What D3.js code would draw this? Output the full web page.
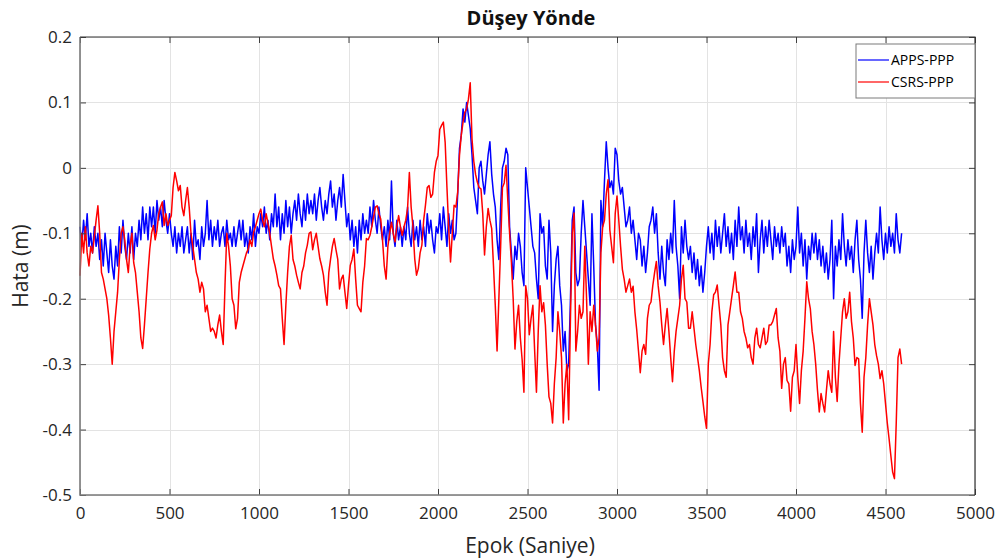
<!DOCTYPE html>
<html>
  <head>
    <meta charset="utf-8">
    <script src="https://cdn.jsdelivr.net/npm/d3@7/dist/d3.min.js"></script>
    <style>
      body { margin: 0; background: white; }
      svg { display: block; font-family: 'Open Sans', sans-serif; }
    </style>
  </head>
  <body>
    <script>
      // epochs run 0, 10, 20 ... seconds
      const epochStep = 10
      const xTicks = [0, 500, 1000, 1500, 2000, 2500, 3000, 3500, 4000, 4500, 5000]
      const yTicks = [-0.5, -0.4, -0.3, -0.2, -0.1, 0, 0.1, 0.2]
      const seriesNames = ['APPS-PPP', 'CSRS-PPP']

      const appsPPP = [
        -0.09,-0.12,-0.08,-0.11,-0.07,-0.12,-0.10,-0.13,-0.09,-0.12,
        -0.10,-0.14,-0.11,-0.15,-0.10,-0.13,-0.16,-0.11,-0.15,-0.17,
        -0.12,-0.15,-0.09,-0.13,-0.08,-0.12,-0.14,-0.10,-0.13,-0.09,
        -0.14,-0.10,-0.12,-0.08,-0.11,-0.06,-0.10,-0.07,-0.11,-0.06,
        -0.09,-0.06,-0.10,-0.05,-0.08,-0.06,-0.09,-0.05,-0.08,-0.10,
        -0.07,-0.10,-0.12,-0.09,-0.13,-0.10,-0.12,-0.09,-0.13,-0.11,
        -0.09,-0.13,-0.10,-0.14,-0.08,-0.12,-0.11,-0.14,-0.09,-0.12,
        -0.10,-0.05,-0.11,-0.08,-0.12,-0.09,-0.11,-0.08,-0.12,-0.10,
        -0.09,-0.12,-0.08,-0.11,-0.10,-0.12,-0.09,-0.12,-0.10,-0.08,
        -0.11,-0.08,-0.12,-0.10,-0.13,-0.09,-0.11,-0.07,-0.12,-0.09,
        -0.10,-0.07,-0.09,-0.06,-0.10,-0.08,-0.11,-0.07,-0.09,-0.04,
        -0.09,-0.06,-0.11,-0.07,-0.10,-0.05,-0.09,-0.06,-0.10,-0.07,
        -0.05,-0.08,-0.04,-0.07,-0.09,-0.05,-0.08,-0.04,-0.07,-0.05,
        -0.07,-0.04,-0.08,-0.05,-0.03,-0.06,-0.08,-0.05,-0.07,-0.04,
        -0.02,-0.06,-0.04,-0.08,-0.05,-0.03,-0.06,-0.01,-0.05,-0.09,
        -0.07,-0.11,-0.08,-0.12,-0.09,-0.13,-0.08,-0.11,-0.07,-0.10,
        -0.08,-0.10,-0.06,-0.09,-0.05,-0.08,-0.10,-0.06,-0.09,-0.11,
        -0.09,-0.12,-0.08,-0.11,-0.02,-0.10,-0.12,-0.08,-0.11,-0.09,
        -0.12,-0.09,-0.11,-0.06,-0.10,-0.12,-0.08,-0.11,-0.09,-0.12,
        -0.08,-0.11,-0.09,-0.12,-0.07,-0.10,-0.08,-0.11,-0.13,-0.09,
        -0.10,-0.07,-0.11,-0.06,-0.09,-0.12,-0.07,-0.10,-0.08,-0.11,
        -0.10,-0.04,0.03,0.05,0.09,0.07,0.10,0.08,0.06,0.02,
        -0.03,-0.05,-0.07,0.00,0.01,-0.02,-0.04,-0.01,0.02,0.04,
        -0.01,-0.04,-0.06,-0.11,-0.14,-0.06,0.00,0.01,0.03,0.02,
        -0.09,-0.13,-0.17,-0.12,-0.14,-0.10,-0.12,-0.16,-0.18,0.00,
        -0.03,-0.06,-0.09,-0.12,-0.13,-0.17,-0.20,-0.07,-0.10,-0.09,
        -0.15,-0.17,-0.08,-0.13,-0.25,-0.18,-0.14,-0.12,-0.18,-0.21,
        -0.28,-0.25,-0.31,-0.30,-0.20,-0.08,-0.06,-0.16,-0.18,-0.17,
        -0.10,-0.05,-0.09,-0.13,-0.17,-0.21,-0.07,-0.15,-0.24,-0.27,
        -0.34,-0.05,-0.09,-0.02,0.04,0.00,-0.03,-0.02,-0.04,0.03,
        0.02,-0.02,-0.04,-0.03,-0.06,-0.09,-0.08,-0.06,-0.10,-0.08,
        -0.11,-0.14,-0.10,-0.11,-0.15,-0.12,-0.16,-0.13,-0.09,-0.08,
        -0.06,-0.10,-0.07,-0.13,-0.17,-0.12,-0.16,-0.18,-0.11,-0.14,
        -0.10,-0.13,-0.05,-0.12,-0.15,-0.20,-0.09,-0.13,-0.08,-0.12,
        -0.14,-0.12,-0.16,-0.13,-0.17,-0.14,-0.18,-0.15,-0.19,-0.16,
        -0.12,-0.09,-0.13,-0.10,-0.14,-0.08,-0.12,-0.09,-0.13,-0.10,
        -0.07,-0.12,-0.09,-0.13,-0.10,-0.14,-0.08,-0.12,-0.06,-0.11,
        -0.09,-0.13,-0.08,-0.12,-0.10,-0.14,-0.09,-0.12,-0.07,-0.16,
        -0.11,-0.08,-0.13,-0.09,-0.12,-0.08,-0.11,-0.14,-0.09,-0.12,
        -0.10,-0.13,-0.09,-0.12,-0.10,-0.15,-0.12,-0.16,-0.11,-0.14,
        -0.12,-0.06,-0.13,-0.10,-0.15,-0.11,-0.17,-0.12,-0.14,-0.10,
        -0.13,-0.10,-0.14,-0.11,-0.15,-0.12,-0.16,-0.13,-0.17,-0.14,
        -0.08,-0.20,-0.12,-0.15,-0.11,-0.14,-0.07,-0.12,-0.15,-0.11,
        -0.14,-0.12,-0.16,-0.11,-0.08,-0.14,-0.17,-0.23,-0.13,-0.08,
        -0.13,-0.16,-0.12,-0.17,-0.13,-0.10,-0.13,-0.06,-0.11,-0.14,
        -0.10,-0.13,-0.09,-0.12,-0.10,-0.13,-0.07,-0.11,-0.13,-0.10
      ]

      const csrsPPP = [
        -0.165,-0.10,-0.13,-0.09,-0.13,-0.15,-0.12,-0.13,-0.105,-0.08,
        -0.058,-0.10,-0.16,-0.17,-0.185,-0.20,-0.225,-0.26,-0.30,-0.25,
        -0.22,-0.19,-0.14,-0.10,-0.09,-0.11,-0.14,-0.16,-0.12,-0.10,
        -0.145,-0.16,-0.19,-0.22,-0.26,-0.276,-0.24,-0.20,-0.16,-0.124,
        -0.10,-0.088,-0.11,-0.095,-0.07,-0.06,-0.052,-0.088,-0.07,-0.088,
        -0.08,-0.073,-0.03,-0.007,-0.02,-0.035,-0.027,-0.06,-0.073,-0.05,
        -0.03,-0.06,-0.10,-0.12,-0.14,-0.16,-0.17,-0.19,-0.175,-0.185,
        -0.22,-0.21,-0.23,-0.25,-0.245,-0.25,-0.26,-0.24,-0.225,-0.25,
        -0.27,-0.18,-0.10,-0.12,-0.15,-0.20,-0.21,-0.246,-0.23,-0.175,
        -0.16,-0.15,-0.14,-0.13,-0.124,-0.11,-0.12,-0.098,-0.09,-0.08,
        -0.07,-0.063,-0.08,-0.09,-0.07,-0.085,-0.10,-0.12,-0.139,-0.15,
        -0.164,-0.18,-0.185,-0.23,-0.27,-0.21,-0.16,-0.12,-0.103,-0.14,
        -0.15,-0.164,-0.175,-0.185,-0.16,-0.15,-0.13,-0.118,-0.10,-0.098,
        -0.125,-0.11,-0.10,-0.12,-0.139,-0.15,-0.164,-0.19,-0.21,-0.16,
        -0.139,-0.12,-0.108,-0.125,-0.14,-0.185,-0.17,-0.164,-0.19,-0.215,
        -0.18,-0.149,-0.14,-0.124,-0.17,-0.21,-0.215,-0.22,-0.175,-0.15,
        -0.108,-0.11,-0.103,-0.09,-0.075,-0.06,-0.058,-0.07,-0.078,-0.11,
        -0.15,-0.17,-0.12,-0.10,-0.083,-0.10,-0.113,-0.09,-0.073,-0.09,
        -0.103,-0.09,-0.08,-0.062,-0.007,-0.06,-0.09,-0.139,-0.164,-0.154,
        -0.13,-0.118,-0.08,-0.057,-0.03,-0.027,-0.045,-0.04,-0.007,0.01,
        0.019,0.059,0.065,0.07,0.039,-0.03,-0.093,-0.144,-0.10,-0.057,
        -0.06,-0.037,0.019,0.05,0.07,0.085,0.09,0.105,0.13,0.044,
        0.01,-0.01,-0.022,-0.03,-0.032,-0.07,-0.133,-0.09,-0.062,-0.08,
        -0.093,-0.15,-0.21,-0.28,-0.20,-0.12,-0.03,-0.023,0.004,-0.05,
        -0.10,-0.144,-0.20,-0.277,-0.235,-0.21,-0.26,-0.293,-0.343,-0.18,
        -0.20,-0.255,-0.23,-0.21,-0.28,-0.343,-0.25,-0.18,-0.22,-0.206,
        -0.24,-0.30,-0.35,-0.36,-0.39,-0.33,-0.29,-0.22,-0.25,-0.29,
        -0.39,-0.33,-0.30,-0.385,-0.23,-0.10,-0.069,-0.28,-0.25,-0.21,
        -0.23,-0.22,-0.12,-0.20,-0.30,-0.22,-0.25,-0.21,-0.24,-0.28,
        -0.26,-0.13,-0.09,-0.08,-0.04,-0.018,-0.095,-0.12,-0.145,-0.07,
        -0.043,-0.08,-0.12,-0.155,-0.17,-0.19,-0.18,-0.17,-0.19,-0.181,
        -0.22,-0.247,-0.28,-0.313,-0.28,-0.27,-0.285,-0.23,-0.21,-0.205,
        -0.18,-0.16,-0.143,-0.18,-0.205,-0.24,-0.27,-0.24,-0.215,-0.25,
        -0.29,-0.327,-0.28,-0.25,-0.23,-0.21,-0.17,-0.149,-0.20,-0.205,
        -0.245,-0.245,-0.22,-0.245,-0.27,-0.29,-0.31,-0.335,-0.357,-0.38,
        -0.398,-0.30,-0.27,-0.22,-0.194,-0.19,-0.179,-0.21,-0.24,-0.29,
        -0.31,-0.32,-0.24,-0.22,-0.20,-0.18,-0.159,-0.19,-0.19,-0.22,
        -0.23,-0.25,-0.26,-0.275,-0.27,-0.29,-0.30,-0.26,-0.245,-0.27,
        -0.275,-0.26,-0.245,-0.27,-0.265,-0.24,-0.24,-0.235,-0.225,-0.215,
        -0.26,-0.28,-0.337,-0.30,-0.29,-0.325,-0.33,-0.372,-0.32,-0.31,
        -0.27,-0.32,-0.36,-0.31,-0.28,-0.23,-0.174,-0.20,-0.215,-0.25,
        -0.27,-0.30,-0.34,-0.373,-0.345,-0.36,-0.373,-0.34,-0.31,-0.33,
        -0.343,-0.25,-0.32,-0.357,-0.30,-0.26,-0.22,-0.20,-0.23,-0.22,
        -0.19,-0.235,-0.26,-0.302,-0.29,-0.292,-0.36,-0.404,-0.32,-0.29,
        -0.24,-0.20,-0.22,-0.24,-0.27,-0.287,-0.30,-0.322,-0.31,-0.33,
        -0.36,-0.39,-0.414,-0.44,-0.465,-0.475,-0.39,-0.29,-0.277,-0.30
      ]

      const W = 1006, H = 559
      const m = {left: 80, right: 31, top: 37, bottom: 64}
      const textColor = '#262626'
      const boxColor = '#7a7a7a'

      const svg = d3.select('body').append('svg')
        .attr('width', W).attr('height', H)
      svg.append('rect').attr('width', W).attr('height', H).attr('fill', 'white')

      const x = d3.scaleLinear().domain([0, 5000]).range([m.left, W - m.right])
      const y = d3.scaleLinear().domain([-0.5, 0.2]).range([H - m.bottom, m.top])

      // grid
      const grid = svg.append('g').attr('stroke', '#e3e3e3').attr('stroke-width', 1)
      grid.selectAll('.gx').data(xTicks).join('line')
        .attr('x1', d => Math.round(x(d)) + 0.5).attr('x2', d => Math.round(x(d)) + 0.5)
        .attr('y1', y(0.2)).attr('y2', y(-0.5))
      grid.selectAll('.gy').data(yTicks).join('line')
        .attr('y1', d => Math.round(y(d)) + 0.5).attr('y2', d => Math.round(y(d)) + 0.5)
        .attr('x1', x(0)).attr('x2', x(5000))

      // lines
      const line = d3.line()
        .x((d, i) => x(i * epochStep))
        .y(d => y(d))
      const plot = svg.append('g')
      plot.append('path').datum(appsPPP)
        .attr('d', line).attr('fill', 'none')
        .attr('stroke', '#0000ff').attr('stroke-width', 1.5).attr('stroke-linejoin', 'round')
      plot.append('path').datum(csrsPPP)
        .attr('d', line).attr('fill', 'none')
        .attr('stroke', '#ff0000').attr('stroke-width', 1.5).attr('stroke-linejoin', 'round')

      // axes, ticks pointing in like matlab
      const fmtY = d => d === 0 ? '0' : d.toFixed(1)
      const styleAxis = g => {
        g.select('.domain').remove()
        g.selectAll('line').attr('stroke', '#404040')
        g.selectAll('text').attr('fill', textColor)
          .attr('font-size', 17).attr('font-family', "'Open Sans', sans-serif")
      }
      svg.append('g').attr('transform', `translate(0,${y(-0.5)})`)
        .call(d3.axisBottom(x).tickValues(xTicks).tickFormat(d3.format('d'))
          .tickSizeInner(-6).tickSizeOuter(0).tickPadding(12))
        .call(styleAxis)
      svg.append('g').attr('transform', `translate(${x(0)},0)`)
        .call(d3.axisLeft(y).tickValues(yTicks).tickFormat(fmtY).tickSizeInner(-6).tickSizeOuter(0).tickPadding(8))
        .call(styleAxis)
      svg.append('g').attr('transform', `translate(0,${y(0.2)})`)
        .call(d3.axisTop(x).tickValues(xTicks).tickSizeInner(-6).tickSizeOuter(0).tickFormat(''))
        .call(styleAxis)
      svg.append('g').attr('transform', `translate(${x(5000)},0)`)
        .call(d3.axisRight(y).tickValues(yTicks).tickSizeInner(-6).tickSizeOuter(0).tickFormat(''))
        .call(styleAxis)

      // box: left and bottom lighter, top and right darker
      const box = svg.append('g').attr('fill', 'none')
      box.append('path')
        .attr('d', `M${x(0)},${y(0.2)}V${y(-0.5)}H${x(5000)}`)
        .attr('stroke', boxColor).attr('stroke-width', 1.6)
      box.append('path')
        .attr('d', `M${x(0)},${y(0.2)}H${x(5000)}V${y(-0.5)}`)
        .attr('stroke', '#333').attr('stroke-width', 1.2)

      // labels
      svg.append('text').attr('x', 531).attr('y', 25)
        .attr('text-anchor', 'middle').attr('font-size', 20).attr('font-weight', 'bold')
        .attr('fill', '#111').text('Düşey Yönde')
      svg.append('text').attr('x', 530).attr('y', 553)
        .attr('text-anchor', 'middle').attr('font-size', 21).attr('fill', textColor)
        .text('Epok (Saniye)')
      svg.append('text')
        .attr('transform', `translate(28,${(y(0.2) + y(-0.5)) / 2}) rotate(-90)`)
        .attr('text-anchor', 'middle').attr('font-size', 21).attr('fill', textColor)
        .text('Hata (m)')

      // legend
      const colors = ['#0000ff', '#ff0000']
      const lg = svg.append('g').attr('transform', 'translate(856,44)')
      lg.append('rect').attr('width', 119).attr('height', 54)
        .attr('fill', 'white').attr('stroke', boxColor).attr('stroke-width', 1)
      const item = lg.selectAll('.item').data(seriesNames).join('g')
        .attr('transform', (d, i) => `translate(0,${16 + i * 22})`)
      item.append('line').attr('x1', 2).attr('x2', 33)
        .attr('stroke', (d, i) => colors[i]).attr('stroke-width', 1.2)
      item.append('text').attr('x', 35).attr('dy', '0.35em')
        .attr('font-size', 14).attr('fill', '#000').text(d => d)
    </script>
  </body>
</html>
